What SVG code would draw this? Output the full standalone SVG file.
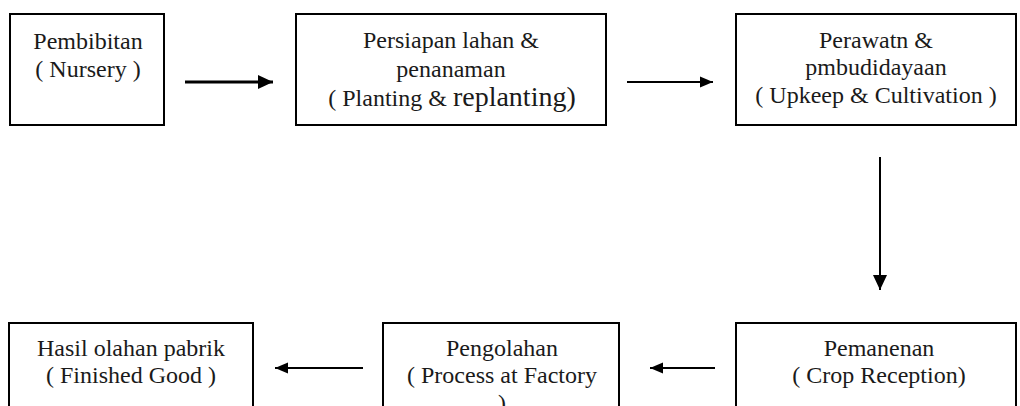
<svg xmlns="http://www.w3.org/2000/svg" width="1020" height="406" viewBox="0 0 1020 406">
<style>
.box{fill:#fff;stroke:#000;stroke-width:2}
.t{font-family:'Liberation Serif','Times New Roman',serif;font-size:24px;fill:#1a1a1a;text-anchor:middle}
.big{font-size:28px}
.c{stroke:#000;fill:none}
</style>
<defs>
<marker id="ah" markerUnits="userSpaceOnUse" markerWidth="16" markerHeight="14" refX="15" refY="7" orient="auto">
<path d="M0,0 L15,7 L0,14 Z" fill="#000"/>
</marker>
<marker id="ahs" markerUnits="userSpaceOnUse" markerWidth="14" markerHeight="12" refX="13" refY="6" orient="auto">
<path d="M0,0.5 L13,6 L0,11.5 Z" fill="#000"/>
</marker>
</defs>
<rect width="1020" height="406" fill="#fff"/>
<g id="n1">
<rect class="box" x="10" y="14" width="154" height="111"/>
<text class="t" x="88" y="49">Pembibitan</text>
<text class="t" x="88" y="77">( Nursery )</text>
</g>
<g id="n2">
<rect class="box" x="296" y="14" width="310" height="111"/>
<text class="t" x="451" y="48">Persiapan lahan &amp;</text>
<text class="t" x="451" y="77">penanaman</text>
<text class="t" x="452" y="106">( Planting &amp; <tspan class="big">replanting)</tspan></text>
</g>
<g id="n3">
<rect class="box" x="736" y="14" width="280" height="111"/>
<text class="t" x="876" y="48">Perawatn &amp;</text>
<text class="t" x="876" y="75">pmbudidayaan</text>
<text class="t" x="876" y="103" font-size="25">( Upkeep &amp; Cultivation )</text>
</g>
<g id="n4">
<rect class="box" x="736" y="323" width="280" height="100"/>
<text class="t" x="879" y="356">Pemanenan</text>
<text class="t" x="879" y="383">( Crop Reception)</text>
</g>
<g id="n5">
<rect class="box" x="383" y="323" width="236" height="100"/>
<text class="t" x="502" y="356">Pengolahan</text>
<text class="t" x="502" y="383">( Process at Factory</text>
<text class="t" x="502" y="411">)</text>
</g>
<g id="n6">
<rect class="box" x="9" y="323" width="244" height="100"/>
<text class="t" x="131" y="356">Hasil olahan pabrik</text>
<text class="t" x="131" y="383">( Finished Good )</text>
</g>
<g id="connectors">
<line class="c" x1="185" y1="82" x2="273" y2="82" stroke-width="3" marker-end="url(#ah)"/>
<line class="c" x1="627" y1="82" x2="713" y2="82" stroke-width="2" marker-end="url(#ahs)"/>
<line class="c" x1="880" y1="157" x2="880" y2="290" stroke-width="2" marker-end="url(#ah)"/>
<line class="c" x1="715" y1="368" x2="650" y2="368" stroke-width="2" marker-end="url(#ahs)"/>
<line class="c" x1="363" y1="368" x2="275" y2="368" stroke-width="2" marker-end="url(#ahs)"/>
</g>
</svg>
